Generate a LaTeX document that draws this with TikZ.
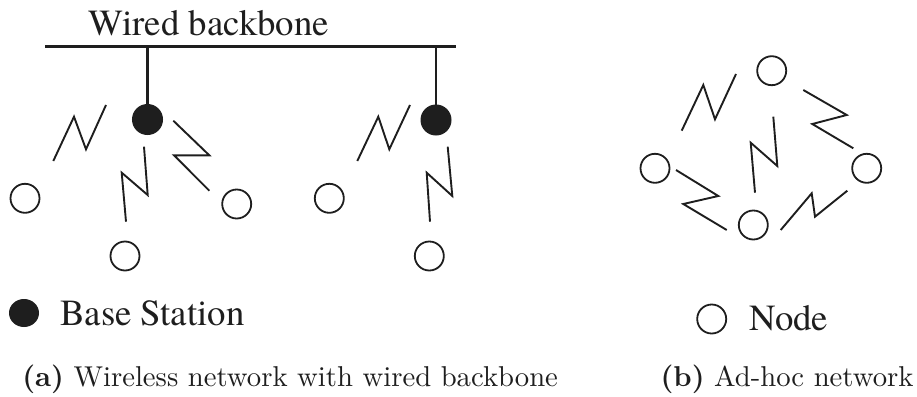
\documentclass[tikz,border=0pt]{standalone}
\usepackage{fontspec}
\usetikzlibrary{shapes.geometric}
\newfontfamily\timesrm{texgyretermes-regular.otf}
\definecolor{ink}{HTML}{1E1E1E}
\begin{document}
\begin{tikzpicture}[x=1pt,y=-1pt,
  zig/.style={draw=ink,line width=1.9pt,line join=miter},
  wire/.style={draw=ink,line width=2.4pt},
  bs/.style={circle,fill=ink,draw=ink,line width=1pt,minimum size=30pt,inner sep=0pt},
  nd/.style={circle,draw=ink,line width=1.8pt,minimum size=29pt,inner sep=0pt},
  tlabel/.style={font={\timesrm\fontsize{36.8}{40}\selectfont},text=ink,inner sep=0pt,anchor=base west},
  captext/.style={font=\normalsize,scale=2.87,text=ink,inner sep=0pt,anchor=base west}]
\useasboundingbox (0,0) rectangle (917,396);

% ---------- (a) wireless network with wired backbone ----------
\node[tlabel] (wbtext) at (88,36) {Wired backbone};
\coordinate (bbL) at (45,46.7);
\coordinate (bbR) at (456,46.7);
\draw[wire] (bbL) -- (bbR);

\node[bs] (bs1) at (147.5,119.5) {};
\node[bs] (bs2) at (436,120) {};
\draw[wire] (147.5,46.7) -- (bs1.north);
\draw[wire] (436,46.7) -- (bs2.north);

\node[nd] (n1) at (25,198.3) {};
\node[nd] (n2) at (125,256) {};
\node[nd] (n3) at (236.7,204) {};
\node[nd] (n4) at (329.3,198.3) {};
\node[nd] (n5) at (429.3,256) {};

\draw[zig] (53.3,161) -- (74,116.7) -- (86,149.3) -- (106,105);
\draw[zig] (144,146.7) -- (147.7,195) -- (121.7,172.7) -- (126,221.7);
\draw[zig] (173.3,120.7) -- (209.3,155.3) -- (174,155.3) -- (209.3,190.7);
\draw[zig] (357.3,161) -- (378.3,116.7) -- (389.3,149.3) -- (410,105);
\draw[zig] (447.7,146.7) -- (452.3,196) -- (426.7,172.7) -- (430,221.7);

% legend (a)
\node[ellipse,fill=ink,minimum width=30pt,minimum height=28pt,inner sep=0pt] (lbs) at (24,313) {};
\node[tlabel] (lbstext) at (60,325.5) {Base Station};

% ---------- (b) ad-hoc network ----------
\node[nd] (a1) at (771.7,70.7) {};
\node[nd] (a2) at (655,168.3) {};
\node[nd] (a3) at (866.7,168.3) {};
\node[nd] (a4) at (753.3,225) {};

\draw[zig] (681.7,130.7) -- (703.3,85) -- (715,119.3) -- (736,74);
\draw[zig] (803.3,90) -- (846.7,115) -- (812.3,124) -- (853.3,148.3);
\draw[zig] (773.3,116.7) -- (777.3,166) -- (750.7,142.7) -- (755,192.7);
\draw[zig] (676,170) -- (718.3,196) -- (683.3,204) -- (726.7,230);
\draw[zig] (780.7,230) -- (811.7,193.3) -- (815,216.7) -- (847.3,190.7);

% legend (b)
\node[nd] (lnd) at (711.7,319) {};
\node[tlabel] (lndtext) at (749,330) {Node};

% ---------- captions ----------
\node[captext] (capa) at (21.7,386) {\textbf{(a)}~Wireless network with wired backbone};
\node[captext] (capb) at (660,386) {\textbf{(b)}~Ad-hoc network};
\end{tikzpicture}
\end{document}
